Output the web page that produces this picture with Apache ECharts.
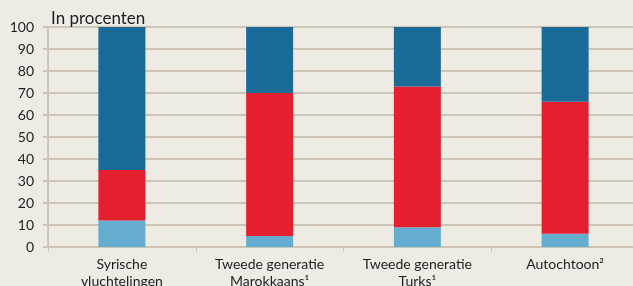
<!DOCTYPE html>
<html>
<head>
<meta charset="utf-8">
<script src="https://cdn.jsdelivr.net/npm/echarts@6/dist/echarts.min.js"></script>
<style>
  html, body { margin: 0; padding: 0; background: #EEEBE5; }
  #chart { width: 633px; height: 286px; }
</style>
</head>
<body>
<div id="chart"></div>
<script>
// gegevens, in procenten
var categories = ['Syrische\nvluchtelingen', 'Tweede generatie\nMarokkaans\u00B9', 'Tweede generatie\nTurks\u00B9', 'Autochtoon\u00B2'];
var onderDeel = [12, 5, 9, 6];
var middenDeel = [23, 65, 64, 60];
var bovenDeel = [65, 30, 27, 34];
var yTicks = [0, 10, 20, 30, 40, 50, 60, 70, 80, 90, 100];

var chart = echarts.init(document.getElementById('chart'));

var lijnKleur = '#CEC4B3';
var tekstKleur = '#1E1E1E';
var font = 'Lato';

var option = {
    backgroundColor: '#EEEBE5',
    animation: false,
    title: {
        text: 'In procenten',
        left: 46,
        top: 5,
        textStyle: { fontFamily: font, fontSize: 17, fontWeight: 'normal', color: tekstKleur }
    },
    grid: { left: 48, right: -6, top: 27, bottom: 39, outerBoundsMode: 'none', containLabel: false },
    xAxis: {
        type: 'category',
        data: categories,
        axisLine: { lineStyle: { color: lijnKleur, width: 2 } },
        axisTick: { show: true, length: 5, lineStyle: { color: lijnKleur, width: 1 } },
        axisLabel: {
            fontFamily: font, fontSize: 14, color: tekstKleur,
            lineHeight: 17, margin: 9, interval: 0
        }
    },
    yAxis: {
        type: 'value',
        min: yTicks[0],
        max: yTicks[yTicks.length - 1],
        interval: 10,
        axisLine: { show: true, lineStyle: { color: lijnKleur, width: 2 } },
        axisTick: { show: true, length: 5, lineStyle: { color: lijnKleur, width: 2 } },
        splitLine: { lineStyle: { color: lijnKleur, width: 2 } },
        axisLabel: { fontFamily: font, fontSize: 14, color: tekstKleur, margin: 14 }
    },
    series: [
        { name: 'onder', type: 'bar', stack: 'totaal', barWidth: 47, data: onderDeel, itemStyle: { color: '#64ADD1' } },
        { name: 'midden', type: 'bar', stack: 'totaal', barWidth: 47, data: middenDeel, itemStyle: { color: '#E42030' } },
        { name: 'boven', type: 'bar', stack: 'totaal', barWidth: 47, data: bovenDeel, itemStyle: { color: '#1B6B99' } }
    ]
};

chart.setOption(option);
</script>
</body>
</html>
